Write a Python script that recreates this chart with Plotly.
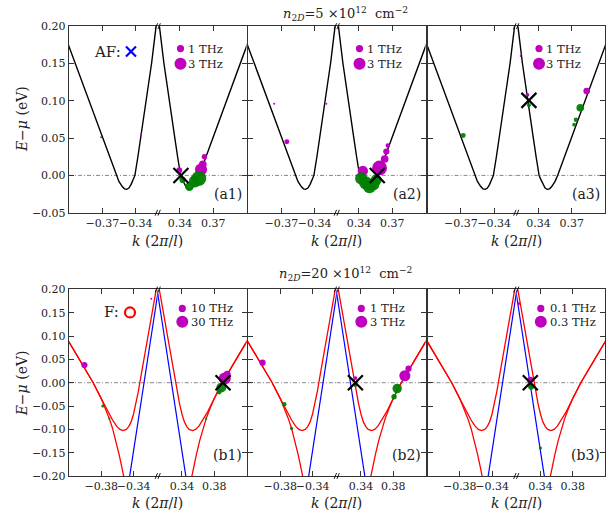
import plotly.graph_objects as go

W, H = 613, 522

# ---------------- data ----------------
# band, n2D = 5e12 (top row), k in 2pi/l, E-mu in eV
A_K_NEG = [-0.405, -0.400, -0.390, -0.380, -0.370, -0.362, -0.3573, -0.355, -0.352, -0.350, -0.348,
           -0.346, -0.344, -0.342, -0.3406, -0.338, -0.3355, -0.3309, -0.3255, -0.3215, -0.318]
A_E_NEG = [0.193, 0.173, 0.1325, 0.092, 0.051, 0.019, 0.0, -0.008, -0.015, -0.018, -0.0187,
           -0.017, -0.012, -0.005, 0.0, 0.024, 0.049, 0.099, 0.151, 0.200, 0.235]
A_K_POS = [0.318, 0.3215, 0.3255, 0.3309, 0.3355, 0.338, 0.3406, 0.342, 0.344, 0.346, 0.348,
           0.350, 0.352, 0.355, 0.3573, 0.362, 0.370, 0.380, 0.390, 0.400, 0.405]
A_E_POS = [0.235, 0.200, 0.151, 0.099, 0.049, 0.024, 0.0, -0.005, -0.012, -0.017, -0.0187,
           -0.018, -0.015, -0.008, 0.0, 0.019, 0.051, 0.092, 0.1325, 0.173, 0.193]

# bands, n2D = 20e12 (bottom row): red upper (U), red lower (L), blue (B)
U_K_NEG = [-0.425, -0.42, -0.41, -0.40, -0.39, -0.38, -0.372, -0.366, -0.361, -0.357, -0.353,
           -0.349, -0.346, -0.343, -0.340, -0.337, -0.334, -0.330, -0.325, -0.320, -0.315, -0.308]
U_E_NEG = [0.102, 0.087, 0.058, 0.029, 0.000, -0.034, -0.062, -0.080, -0.093, -0.100, -0.1025,
           -0.100, -0.094, -0.084, -0.067, -0.045, -0.018, 0.022, 0.072, 0.121, 0.170, 0.238]
U_K_POS = [0.308, 0.315, 0.320, 0.325, 0.330, 0.334, 0.337, 0.340, 0.343, 0.346, 0.349,
           0.353, 0.357, 0.361, 0.366, 0.372, 0.38, 0.39, 0.40, 0.41, 0.42, 0.425]
U_E_POS = [0.238, 0.170, 0.121, 0.072, 0.022, -0.018, -0.045, -0.067, -0.084, -0.094, -0.100,
           -0.1025, -0.100, -0.093, -0.080, -0.062, -0.034, 0.000, 0.029, 0.058, 0.087, 0.102]
L_K_NEG = [-0.425, -0.42, -0.41, -0.40, -0.39, -0.38, -0.375, -0.370, -0.366, -0.362, -0.358,
           -0.355, -0.352, -0.349]
L_E_NEG = [0.102, 0.087, 0.058, 0.029, 0.000, -0.034, -0.054, -0.077, -0.098, -0.124, -0.153,
           -0.177, -0.202, -0.228]
L_K_POS = [0.349, 0.352, 0.355, 0.358, 0.362, 0.366, 0.370, 0.375, 0.38, 0.39, 0.40, 0.41, 0.42, 0.425]
L_E_POS = [-0.228, -0.202, -0.177, -0.153, -0.124, -0.098, -0.077, -0.054, -0.034, 0.000, 0.029,
           0.058, 0.087, 0.102]
B_K_NEG = [-0.347, -0.3271, -0.307]
B_E_NEG = [-0.225, 0.0, 0.225]
B_K_POS = [0.307, 0.3271, 0.347]
B_E_POS = [0.225, 0.0, -0.225]

# scattering dots: (k, E, frequency in THz)
DOTS = {
    "a1": {"m": [(0.3394, 0.007, 0.7), (0.359, 0.008, 3.0), (0.3606, 0.015, 1.2), (0.3621, 0.025, 0.6),
                 (-0.371, 0.051, 0.05), (-0.335, 0.055, 0.05)],
           "g": [(0.3424, -0.006, 0.8), (0.3485, -0.015, 1.5), (0.3535, -0.008, 3.0), (0.357, -0.004, 4.5)]},
    "a2": {"m": [(-0.365, 0.045, 0.5), (-0.3764, 0.096, 0.08), (-0.3294, 0.096, 0.08), (0.3435, 0.006, 2.2),
                 (0.3586, 0.010, 4.5), (0.3632, 0.022, 1.2), (0.3647, 0.032, 0.8), (0.366, 0.040, 0.4)],
           "g": [(0.342, -0.004, 3.0), (0.346, -0.010, 3.5), (0.3495, -0.015, 3.5), (0.353, -0.012, 3.0),
                 (0.3556, -0.006, 2.5)]},
    "a3": {"m": [(0.3835, 0.113, 0.9), (0.3301, 0.108, 0.3), (0.3240, 0.160, 0.05)],
           "g": [(0.3777, 0.0907, 1.2), (0.3738, 0.0745, 0.4), (0.3722, 0.068, 0.3), (-0.3678, 0.0536, 0.5),
                 (0.3314, 0.094, 0.3)]},
    "b1": {"m": [(0.393, 0.009, 30.0), (0.396, 0.018, 10.0), (-0.4009, 0.038, 8.0), (-0.318, 0.180, 0.8)],
           "g": [(0.3888, -0.0105, 20.0), (0.386, -0.020, 5.0), (-0.378, -0.050, 2.0), (-0.370, -0.077, 1.0),
                 (0.370, -0.077, 1.0)]},
    "b2": {"m": [(0.3944, 0.015, 2.5), (0.399, 0.030, 0.8), (-0.402, 0.043, 0.8), (0.3331, 0.010, 0.3)],
           "g": [(0.3849, -0.0125, 1.8), (0.381, -0.030, 0.6), (-0.375, -0.046, 0.4), (0.3331, -0.005, 0.3),
                 (-0.366, -0.098, 0.2)]},
    "b3": {"m": [(0.3274, 0.006, 0.08), (0.313, 0.170, 0.02)],
           "g": [(0.3285, -0.008, 0.08), (0.340, -0.140, 0.02)]},
}
# black crosses (k, E)
CROSS = {"a1": (0.3409, 0.0), "a2": (0.3565, 0.0), "a3": (0.3314, 0.1006),
         "b1": (0.3909, 0.0), "b2": (0.3331, 0.0), "b3": (0.3274, 0.0)}
# legend reference frequencies (THz)
REF = {"a1": 1, "a2": 1, "a3": 1, "b1": 10, "b2": 1, "b3": 0.1}
LEG_TXT = {"a1": ("1 THz", "3 THz"), "a2": ("1 THz", "3 THz"), "a3": ("1 THz", "3 THz"),
           "b1": ("10 THz", "30 THz"), "b2": ("1 THz", "3 THz"), "b3": ("0.1 THz", "0.3 THz")}

TOP_XT_NEG = [-0.37, -0.34]; TOP_XT_POS = [0.34, 0.37]
BOT_XT_NEG = [-0.38, -0.34]; BOT_XT_POS = [0.34, 0.38]
TOP_YT = [-0.05, 0.0, 0.05, 0.10, 0.15, 0.20]
BOT_YT = [-0.20, -0.15, -0.10, -0.05, 0.0, 0.05, 0.10, 0.15, 0.20]

# ---------------- geometry / style ----------------
COL_L = [69, 248, 427.5]
COL_R = [246.5, 425.5, 605]
ROW_T = [20.7, 290.7]
ROW_B = [212, 482]
FONT = "DejaVu Serif"
TXT = "#222"
FRAME = "#333"
MAG = "#bf00bf"
GRN = "#008000"


def fx(x):
    return x / W


def fy(y):
    return 1 - y / H


def lab(v):
    s = f"{abs(v):.2f}"
    return ("\u2212" + s) if v < 0 else s


fig = go.Figure()
layout = {}
shapes = []
annotations = []

PANELS = [("a1", 0, 0), ("a2", 0, 1), ("a3", 0, 2), ("b1", 1, 0), ("b2", 1, 1), ("b3", 1, 2)]

for p, (name, r, c) in enumerate(PANELS):
    xl, xr = COL_L[c], COL_R[c]
    xm = (xl + xr) / 2
    yt, yb = ROW_T[r], ROW_B[r]
    ref = REF[name]
    for h in range(2):
        n = 2 * p + h + 1
        xs = "x" if n == 1 else f"x{n}"
        ys = "y" if n == 1 else f"y{n}"
        xkey = "xaxis" if n == 1 else f"xaxis{n}"
        ykey = "yaxis" if n == 1 else f"yaxis{n}"
        dom_x = [fx(xl), fx(xm)] if h == 0 else [fx(xm), fx(xr)]
        if r == 0:
            xrng = [-0.40, -0.32] if h == 0 else [0.32, 0.40]
            xt = TOP_XT_NEG if h == 0 else TOP_XT_POS
            yrng = [-0.05, 0.20]
            yt_vals = TOP_YT
        else:
            xrng = [-0.42, -0.31] if h == 0 else [0.31, 0.42]
            xt = BOT_XT_NEG if h == 0 else BOT_XT_POS
            yrng = [-0.20, 0.20]
            yt_vals = BOT_YT
        layout[xkey] = dict(domain=dom_x, range=xrng, anchor=ys, showgrid=False, zeroline=False,
                            showline=True, linecolor=FRAME, linewidth=1.2, mirror="ticks",
                            ticks="inside", ticklen=5, tickwidth=1, tickcolor=FRAME,
                            tickvals=xt, ticktext=[lab(v) for v in xt], tickangle=0,
                            tickfont=dict(family=FONT, size=11, color=TXT), fixedrange=True)
        layout[ykey] = dict(domain=[fy(yb), fy(yt)], range=yrng, anchor=xs, showgrid=False,
                            zeroline=False, showline=True, linecolor=FRAME, linewidth=1.2,
                            side="left" if h == 0 else "right",
                            ticks="inside", ticklen=5, tickwidth=1, tickcolor=FRAME,
                            tickvals=yt_vals, ticktext=[lab(v) for v in yt_vals],
                            showticklabels=(h == 0 and c == 0),
                            tickfont=dict(family=FONT, size=11, color=TXT), fixedrange=True)
        # zero reference line
        shapes.append(dict(type="line", xref=f"{xs} domain", yref=ys, x0=0, x1=1, y0=0, y1=0,
                           line=dict(color="#888", width=1, dash="4px,2px,1px,2px"), layer="below"))
        # bands
        if r == 0:
            kk = A_K_NEG if h == 0 else A_K_POS
            ee = A_E_NEG if h == 0 else A_E_POS
            fig.add_trace(go.Scatter(x=kk, y=ee, mode="lines", line=dict(color="black", width=1.4),
                                     xaxis=xs, yaxis=ys, hoverinfo="skip", showlegend=False))
        else:
            for kk, ee, col, wd in (
                (B_K_NEG if h == 0 else B_K_POS, B_E_NEG if h == 0 else B_E_POS, "#0000ff", 1.2),
                (L_K_NEG if h == 0 else L_K_POS, L_E_NEG if h == 0 else L_E_POS, "#ff0000", 1.3),
                (U_K_NEG if h == 0 else U_K_POS, U_E_NEG if h == 0 else U_E_POS, "#ff0000", 1.3),
            ):
                fig.add_trace(go.Scatter(x=kk, y=ee, mode="lines", line=dict(color=col, width=wd),
                                         xaxis=xs, yaxis=ys, hoverinfo="skip", showlegend=False))
        # dots
        for key, col, op in (("m", MAG, 1.0), ("g", GRN, 0.95)):
            pts = [d for d in DOTS[name][key] if (d[0] < 0) == (h == 0)]
            if pts:
                fig.add_trace(go.Scatter(
                    x=[d[0] for d in pts], y=[d[1] for d in pts], mode="markers",
                    marker=dict(color=col, opacity=op, line=dict(width=0),
                                size=[max(2.0, 7 * (d[2] / ref) ** 0.5) for d in pts]),
                    xaxis=xs, yaxis=ys, hoverinfo="skip", showlegend=False))
        ck, ce = CROSS[name]
        if (ck < 0) == (h == 0):
            fig.add_trace(go.Scatter(x=[ck], y=[ce], mode="markers",
                                     marker=dict(symbol="x-thin", size=15, color="black",
                                                 line=dict(color="black", width=2.2)),
                                     xaxis=xs, yaxis=ys, hoverinfo="skip", showlegend=False))
    # break marks
    for yy in (yt, yb):
        for off in (-1.4, 1.4):
            shapes.append(dict(type="line", xref="paper", yref="paper",
                               x0=fx(xm + off - 1.2), x1=fx(xm + off + 1.2),
                               y0=fy(yy + 3), y1=fy(yy - 3), line=dict(color="black", width=0.9)))
    # legend circles + text
    ly1 = yt + 23 if r == 0 else yt + 19.5
    ly2 = yt + 38.6 if r == 0 else yt + 33
    dx = xl + (111.5 if r == 0 else 113.3)
    for yy, rad in ((ly1, 3.6), (ly2, 6.0)):
        shapes.append(dict(type="circle", xref="paper", yref="paper", xsizemode="pixel",
                           ysizemode="pixel", xanchor=fx(dx), yanchor=fy(yy),
                           x0=-rad, x1=rad, y0=-rad, y1=rad, fillcolor=MAG, line=dict(width=0)))
    tx = xl + (116.5 if r == 0 else 120)
    for yy, t in ((ly1, LEG_TXT[name][0]), (ly2, LEG_TXT[name][1])):
        annotations.append(dict(x=fx(tx), y=fy(yy), xref="paper", yref="paper", text=t,
                                showarrow=False, xanchor="left", yanchor="middle",
                                font=dict(family=FONT, size=11.5, color=TXT)))
    # panel label
    annotations.append(dict(x=fx(xr - 3), y=fy(yb - 19 if r == 0 else yb - 22), xref="paper",
                            yref="paper", text=f"({name})", showarrow=False, xanchor="right",
                            yanchor="middle", font=dict(family=FONT, size=14, color=TXT)))
    # x title
    annotations.append(dict(x=fx(xm), y=fy(241 if r == 0 else 510), xref="paper", yref="paper",
                            text="<i>k</i> (2<i>\u03c0</i>/<i>l</i>)", showarrow=False,
                            xanchor="center", yanchor="middle",
                            font=dict(family=FONT, size=14, color=TXT)))

# y titles
for yy in (116, 387):
    annotations.append(dict(x=fx(22), y=fy(yy), xref="paper", yref="paper",
                            text="<i>E</i>\u2212<i>\u03bc</i> (eV)", textangle=-90, showarrow=False,
                            xanchor="center", yanchor="middle",
                            font=dict(family=FONT, size=14, color=TXT)))
# row titles
for yy, val in ((8, "5"), (275, "20")):
    annotations.append(dict(x=fx(345), y=fy(yy), xref="paper", yref="paper",
                            text=f"<i>n</i><sub>2<i>D</i></sub>={val} \u00d710<sup>12</sup>  cm<sup>\u22122</sup>",
                            showarrow=False, xanchor="center", yanchor="middle",
                            font=dict(family=FONT, size=13, color=TXT)))
# AF / F markers
annotations.append(dict(x=fx(123), y=fy(46.7), xref="paper", yref="paper", text="AF:",
                        showarrow=False, xanchor="right", yanchor="middle",
                        font=dict(family=FONT, size=15, color=TXT)))
annotations.append(dict(x=fx(121), y=fy(314.3), xref="paper", yref="paper", text="F:",
                        showarrow=False, xanchor="right", yanchor="middle",
                        font=dict(family=FONT, size=15, color=TXT)))
for s in (-1, 1):
    shapes.append(dict(type="line", xref="paper", yref="paper", xsizemode="pixel", ysizemode="pixel",
                       xanchor=fx(131), yanchor=fy(46.7), x0=-5, x1=5, y0=-5 * s, y1=5 * s,
                       line=dict(color="#0000ff", width=2.2)))
shapes.append(dict(type="circle", xref="paper", yref="paper", xsizemode="pixel", ysizemode="pixel",
                   xanchor=fx(130), yanchor=fy(314.3), x0=-5, x1=5, y0=-5, y1=5,
                   line=dict(color="#ff0000", width=2.2)))

fig.update_layout(width=W, height=H, margin=dict(l=0, r=0, t=0, b=0, pad=0),
                  paper_bgcolor="white", plot_bgcolor="white", showlegend=False,
                  shapes=shapes, annotations=annotations, **layout)
fig.write_html("out.html", config={"displayModeBar": False, "staticPlot": True},
               post_script="document.body.style.margin='0';document.body.style.overflow='hidden';")
